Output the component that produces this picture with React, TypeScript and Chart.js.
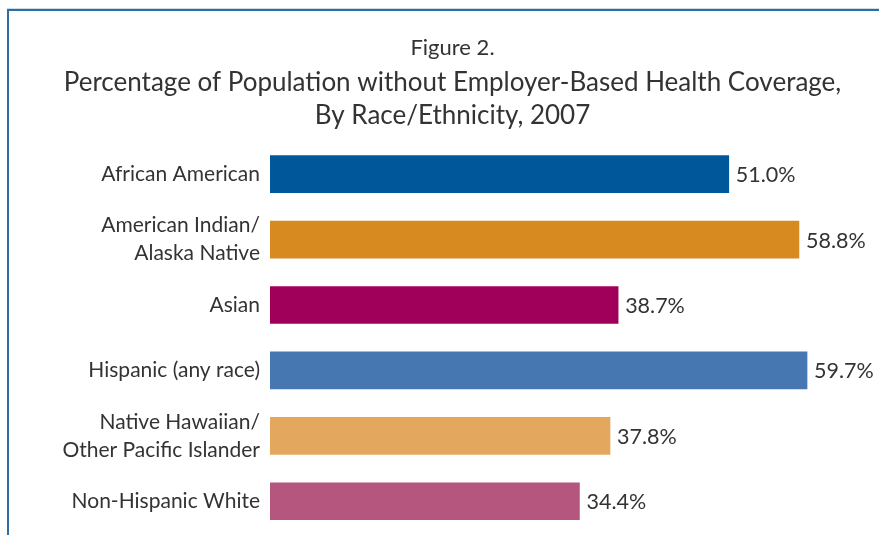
import React, { useEffect, useRef } from "react";
import { Chart, registerables } from "chart.js";

Chart.register(...registerables);

const categories: (string | string[])[] = [
  "African American",
  ["American Indian/", "Alaska Native"],
  "Asian",
  "Hispanic (any race)",
  ["Native Hawaiian/", "Other Pacific Islander"],
  "Non-Hispanic White",
];
const values = [51.0, 58.8, 38.7, 59.7, 37.8, 34.4];
const barColors = ["#00589a", "#d68a1f", "#a0005a", "#4677b0", "#e3a85e", "#b5567e"];
const figureLabel = "Figure 2.";
const titleLines = [
  "Percentage of Population without Employer-Based Health Coverage,",
  "By Race/Ethnicity, 2007",
];

const FONT = "Lato, 'Open Sans', sans-serif";
const TEXT = "#333333";

const framePlugin = {
  id: "frame",
  beforeDraw(chart: any) {
    const ctx = chart.ctx;
    ctx.save();
    ctx.fillStyle = "#ffffff";
    ctx.fillRect(0, 0, chart.width, chart.height);
    ctx.strokeStyle = "#c8dcea";
    ctx.lineWidth = 1;
    ctx.beginPath();
    ctx.moveTo(7, 8.5);
    ctx.lineTo(chart.width, 8.5);
    ctx.stroke();
    ctx.strokeStyle = "#2e6da4";
    ctx.lineWidth = 2;
    ctx.beginPath();
    ctx.moveTo(8, chart.height);
    ctx.lineTo(8, 10);
    ctx.lineTo(chart.width, 10);
    ctx.stroke();
    ctx.restore();
  },
};

const valueLabelPlugin = {
  id: "valueLabels",
  afterDatasetsDraw(chart: any) {
    const ctx = chart.ctx;
    const meta = chart.getDatasetMeta(0);
    ctx.save();
    ctx.fillStyle = TEXT;
    ctx.font = `21.5px ${FONT}`;
    ctx.textAlign = "left";
    ctx.textBaseline = "middle";
    meta.data.forEach((bar: any, i: number) => {
      ctx.fillText(values[i].toFixed(1) + "%", bar.x + 7, bar.y + 1);
    });
    ctx.restore();
  },
};

export default function App() {
  const ref = useRef<HTMLCanvasElement>(null);
  useEffect(() => {
    if (!ref.current) return;
    const chart = new Chart(ref.current, {
      type: "bar",
      data: {
        labels: categories,
        datasets: [
          {
            data: values,
            backgroundColor: barColors,
            barThickness: 37,
          },
        ],
      },
      options: {
        animation: false,
        responsive: false,
        indexAxis: "y",
        layout: { padding: { left: 26, right: 0, top: 0, bottom: 1 } },
        plugins: {
          legend: { display: false },
          tooltip: { enabled: false },
          title: {
            display: true,
            text: figureLabel,
            color: TEXT,
            font: { family: FONT, size: 22, weight: "normal", lineHeight: 1.2 },
            padding: { top: 35, bottom: 5 },
          },
          subtitle: {
            display: true,
            text: titleLines,
            color: TEXT,
            font: { family: FONT, size: 26, weight: "normal", lineHeight: 1.27 },
            padding: { top: 0, bottom: 9 },
          },
        },
        scales: {
          x: {
            display: false,
            min: 0,
            max: 67.7,
          },
          y: {
            grid: { display: false },
            border: { display: false },
            ticks: {
              color: TEXT,
              padding: 2,
              font: { family: FONT, size: 21, lineHeight: 1.33 },
            },
            afterFit(scale: any) {
              scale.width = 244;
              scale.paddingTop = 0;
              scale.paddingBottom = 0;
            },
          },
        },
      },
      plugins: [framePlugin, valueLabelPlugin],
    });
    return () => chart.destroy();
  }, []);
  return (
    <div style={{ position: "absolute", left: 0, top: 0, width: 879, height: 535 }}>
      <canvas ref={ref} width={879} height={535} />
    </div>
  );
}
